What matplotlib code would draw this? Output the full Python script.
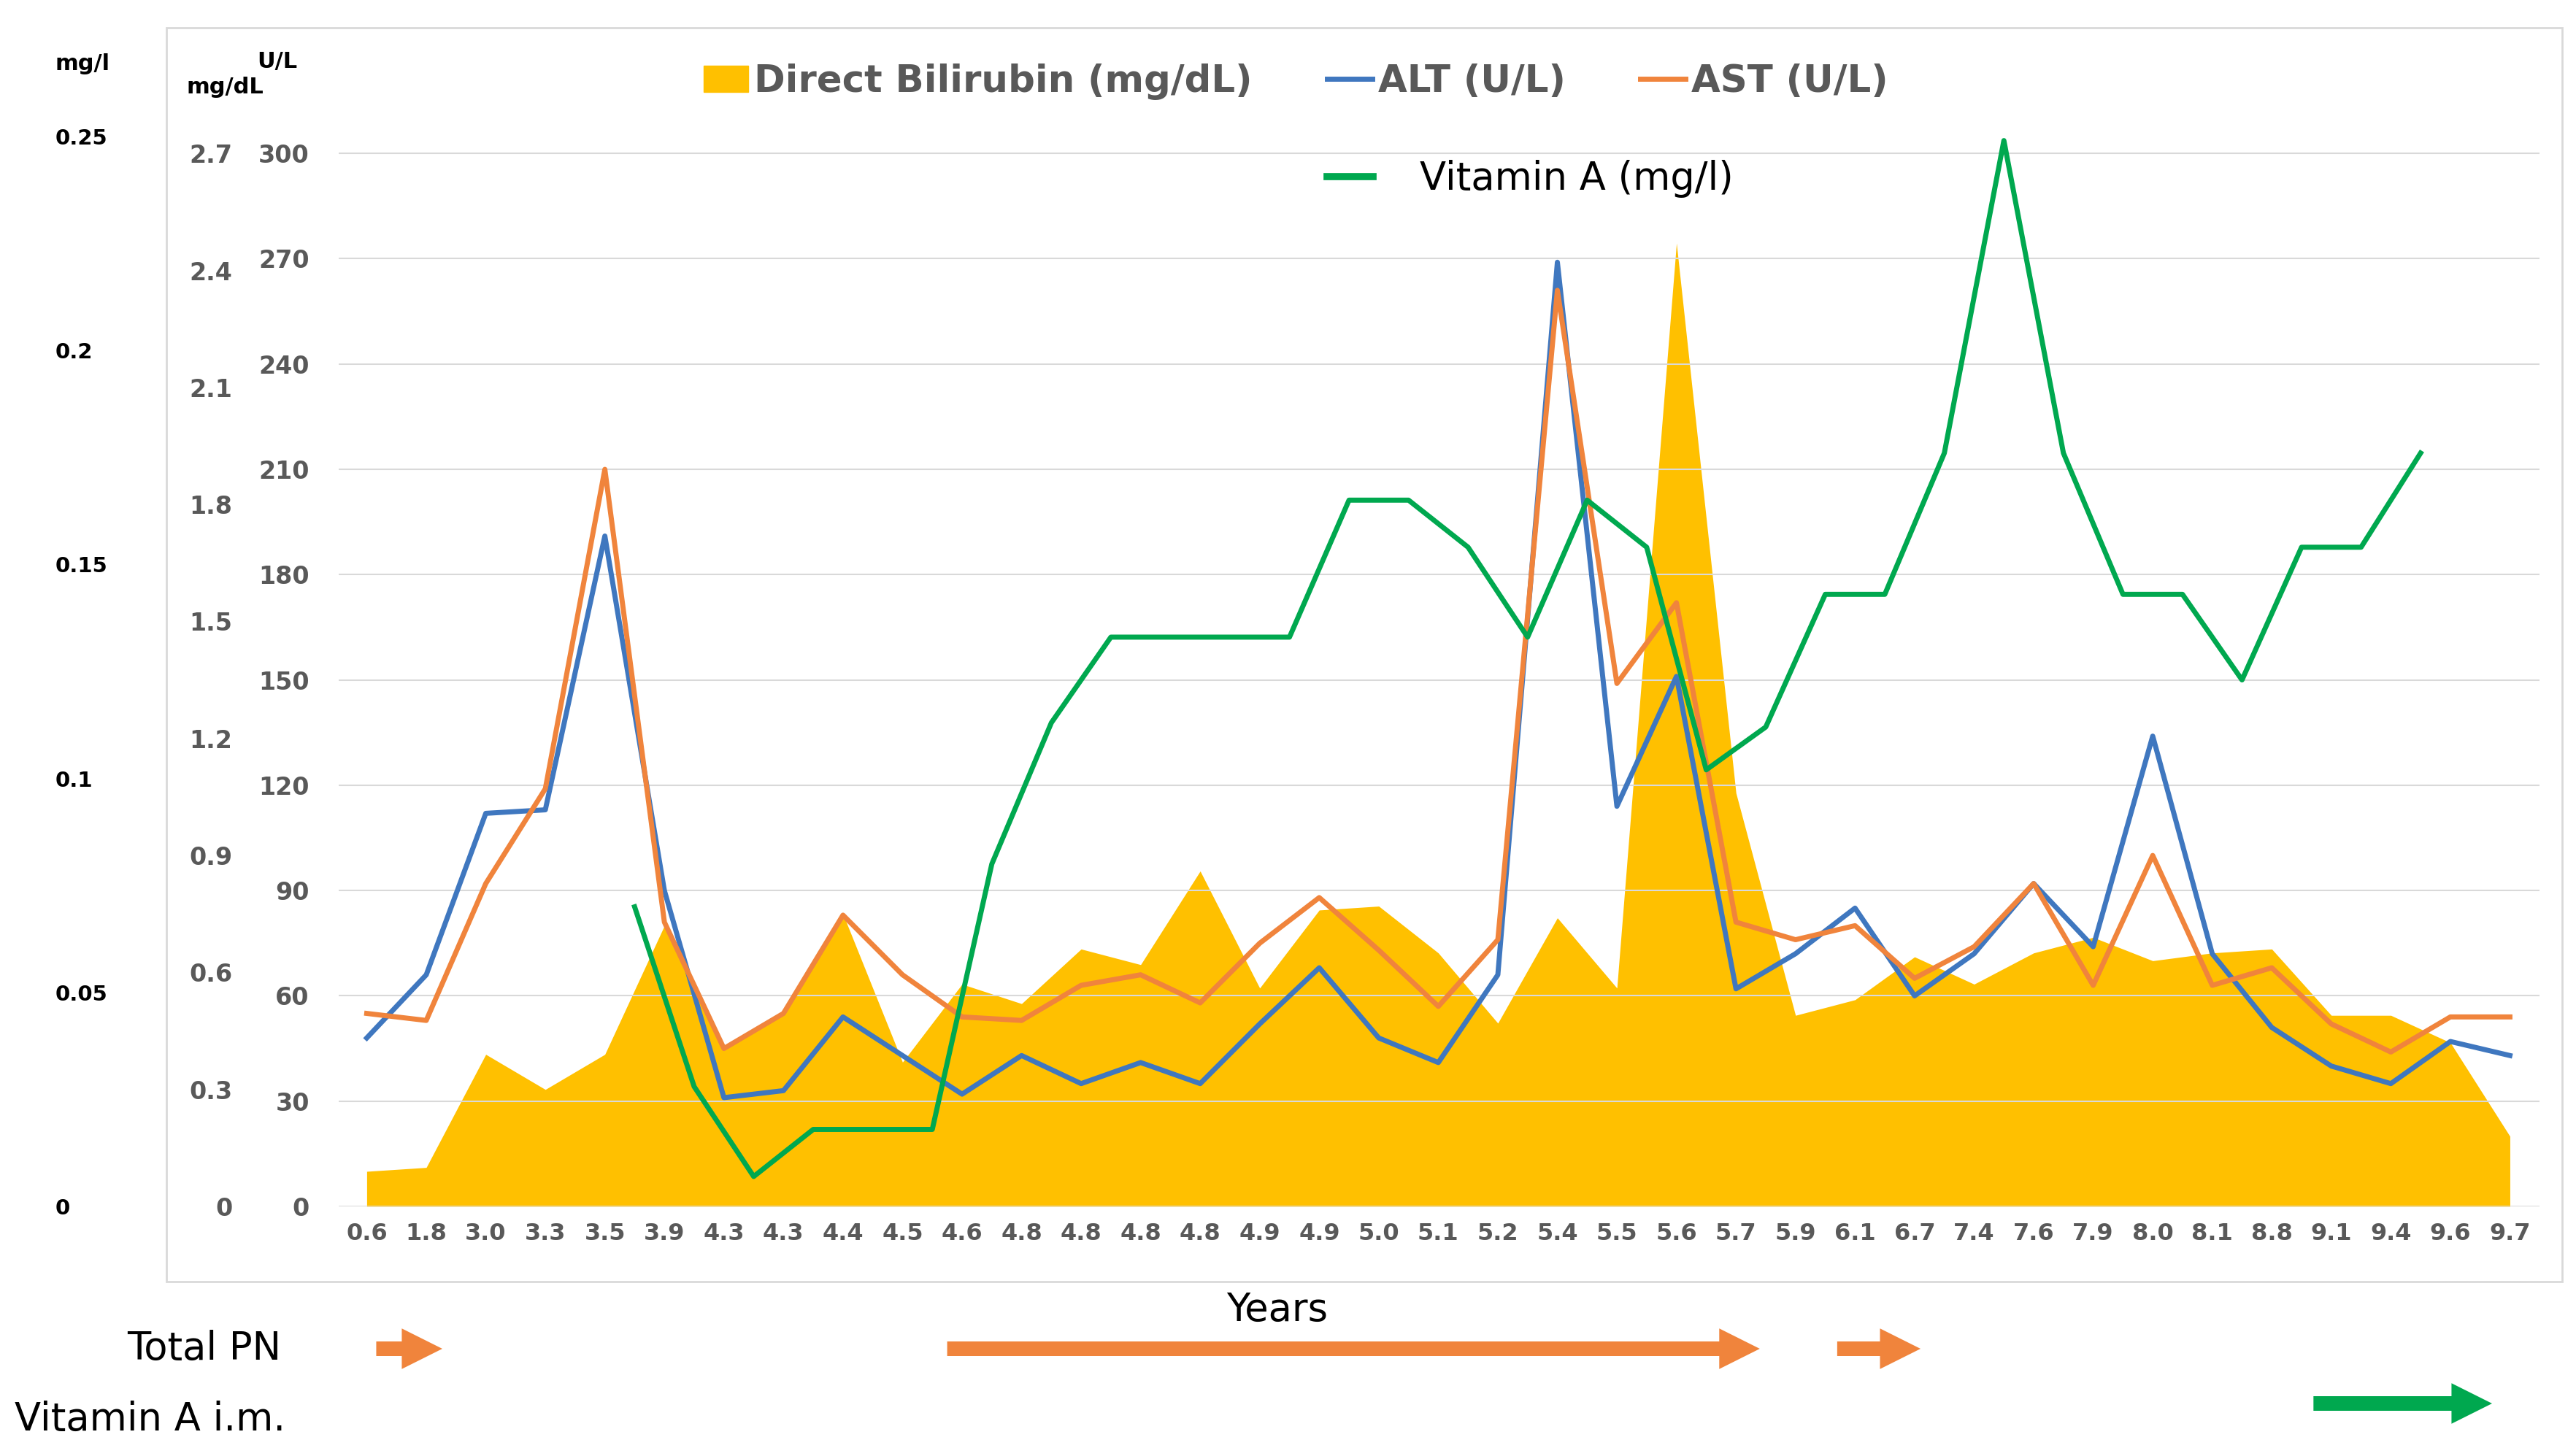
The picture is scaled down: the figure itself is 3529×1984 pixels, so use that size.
import matplotlib
matplotlib.use("Agg")
import matplotlib.pyplot as plt
import matplotlib.transforms as mtrans
from matplotlib.lines import Line2D
from matplotlib.patches import Patch, Rectangle
import numpy as np

years = ["0.6","1.8","3.0","3.3","3.5","3.9","4.3","4.3","4.4","4.5","4.6","4.8","4.8","4.8","4.8",
         "4.9","4.9","5.0","5.1","5.2","5.4","5.5","5.6","5.7","5.9","6.1","6.7","7.4","7.6","7.9",
         "8.0","8.1","8.8","9.1","9.4","9.6","9.7"]
bilirubin = [0.09,0.10,0.39,0.30,0.39,0.72,0.40,0.50,0.75,0.37,0.57,0.52,0.66,0.62,0.86,
             0.56,0.76,0.77,0.65,0.47,0.74,0.56,2.47,1.06,0.49,0.53,0.64,0.57,0.65,0.69,
             0.63,0.65,0.66,0.49,0.49,0.42,0.18]
alt = [48,66,112,113,191,90,31,33,54,43,32,43,35,41,35,52,68,48,41,66,269,114,151,62,72,85,60,72,
       92,74,134,72,51,40,35,47,43]
ast = [55,53,92,119,210,81,45,55,83,66,54,53,63,66,58,75,88,73,57,76,261,149,172,81,76,80,65,74,
       92,63,100,63,68,52,44,54,54]
vitA_pos = [4.5 + i for i in range(31)]
vitA = [0.070,0.028,0.007,0.018,0.018,0.018,0.080,0.113,0.133,0.133,0.133,0.133,0.165,0.165,0.154,
        0.133,0.165,0.154,0.102,0.112,0.143,0.143,0.176,0.249,0.176,0.143,0.143,0.123,0.154,0.154,0.176]
ul_ticks = list(range(0, 301, 30))
bil_ticks = [0, 0.3, 0.6, 0.9, 1.2, 1.5, 1.8, 2.1, 2.4, 2.7]
vit_ticks = [0, 0.05, 0.1, 0.15, 0.2, 0.25]

C_ALT = "#3F77BF"; C_AST = "#F0843C"; C_BIL = "#FFC000"; C_VIT = "#00A84F"; GRAY = "#595959"
LW = 5

fig = plt.figure(figsize=(35.29, 19.84), dpi=100)
fig.patches.append(Rectangle((228/3529, 1-1756/1984), (3510-228)/3529, (1756-38)/1984,
                             transform=fig.transFigure, fill=False, ec="#D9D9D9", lw=2))
ax = fig.add_axes([0.1315, 0.1668, 0.8544, 0.7515])
x = np.arange(len(years))
UL_TOP = 310
ax.set_ylim(0, UL_TOP)
ax.set_xlim(-0.47, len(years) - 0.5)

axb = ax.twinx(); axb.set_ylim(0, UL_TOP * 0.009)
axv = ax.twinx(); axv.set_ylim(0, UL_TOP * 0.00082)
for a in (ax, axb, axv):
    for s in a.spines.values():
        s.set_visible(False)
axb.set_zorder(0); ax.set_zorder(2); axv.set_zorder(3)
ax.patch.set_visible(False)

axb.fill_between(x, bilirubin, 0, color=C_BIL, lw=0)
ax.plot(x, alt, color=C_ALT, lw=LW)
ax.plot(x, ast, color=C_AST, lw=LW)
axv.plot(vitA_pos, vitA, color=C_VIT, lw=LW)

ax.set_yticks(ul_ticks)
ax.grid(axis="y", color="#D9D9D9", lw=1.5)
ax.set_axisbelow(True)
ax.tick_params(axis="y", length=0, pad=29, labelsize=24, labelcolor=GRAY)
for t in ax.get_yticklabels(): t.set_fontweight("bold")
ax.set_xticks(x, years)
ax.tick_params(axis="x", length=0, pad=16, labelsize=23, labelcolor=GRAY)
for t in ax.get_xticklabels(): t.set_fontweight("bold")

axb.yaxis.tick_left()
axb.set_yticks(bil_ticks, [f"{v:.1f}" if v else "0" for v in bil_ticks])
axb.tick_params(axis="y", length=0, pad=105, labelsize=24, labelcolor=GRAY)
for t in axb.get_yticklabels(): t.set_fontweight("bold")

axv.yaxis.tick_left()
axv.set_yticks(vit_ticks, ["0", "0.05", "0.1", "0.15", "0.2", "0.25"])
axv.tick_params(axis="y", length=0, pad=280, labelsize=21, labelcolor="black")
for t in axv.get_yticklabels():
    t.set_fontweight("bold"); t.set_ha("left")

fig.text(76/3529, 1-87/1984, "mg/l", fontsize=22, fontweight="bold", va="center")
fig.text(255/3529, 1-120/1984, "mg/dL", fontsize=22, fontweight="bold", va="center")
fig.text(352/3529, 1-85/1984, "U/L", fontsize=22, fontweight="bold", va="center")

h1 = [Patch(color=C_BIL), Line2D([], [], color=C_ALT, lw=LW), Line2D([], [], color=C_AST, lw=LW)]
leg1 = fig.legend(h1, ["Direct Bilirubin (mg/dL)", "ALT (U/L)", "AST (U/L)"], ncol=3,
                  loc="center", bbox_to_anchor=(0.503, 1-112/1984), frameon=False, fontsize=37,
                  handlelength=1.2, handletextpad=0.15, columnspacing=2.0)
for t in leg1.get_texts(): t.set_color(GRAY); t.set_fontweight("bold")
leg2 = fig.legend([Line2D([], [], color=C_VIT, lw=7)], ["Vitamin A (mg/l)"], loc="center",
                  bbox_to_anchor=(0.594, 1-245/1984), frameon=False, fontsize=38,
                  handlelength=1.2, handletextpad=1.2)

fig.text(1750/3529, 1-1795/1984, "Years", fontsize=38, ha="center", va="center")
fig.text(385/3529, 1-1848/1984, "Total PN", fontsize=38, ha="right", va="center")
fig.text(20/3529, 1-1945/1984, "Vitamin A i.m.", fontsize=38, ha="left", va="center")

tr = mtrans.blended_transform_factory(ax.transData, fig.transFigure)
arrows = [(0.16, 1.27, 1-1848/1984, C_AST), (9.75, 23.4, 1-1848/1984, C_AST),
          (24.7, 26.1, 1-1848/1984, C_AST), (32.7, 35.7, 1-1923/1984, C_VIT)]
for x0, x1, yy, c in arrows:
    ax.annotate("", xy=(x1, yy), xytext=(x0, yy), xycoords=tr, textcoords=tr,
                arrowprops=dict(arrowstyle="simple,head_length=1.0,head_width=1.0,tail_width=0.36",
                                mutation_scale=40, lw=0, color=c, shrinkA=0, shrinkB=0),
                annotation_clip=False)

fig.savefig("out.png", dpi=100)
